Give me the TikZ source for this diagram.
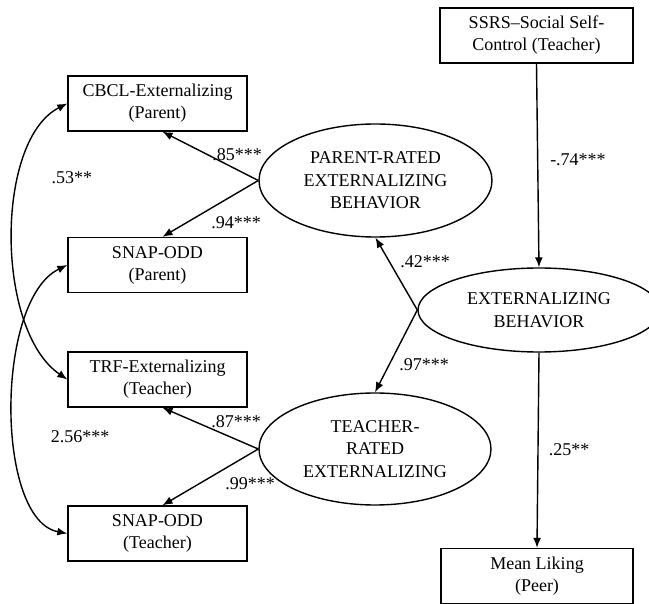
\documentclass[tikz,border=0pt]{standalone}
\usepackage{fontspec}
\setmainfont{Liberation Serif}
\usetikzlibrary{shapes.geometric,arrows.meta}
\begin{document}
\begin{tikzpicture}[x=1pt,y=-1pt,
  every node/.style={font=\fontsize{18}{22}\selectfont},
  obs/.style={draw,line width=1.4pt,rectangle,minimum width=179pt,minimum height=55pt,inner sep=0pt,align=center},
  lat/.style={draw,line width=1.4pt,ellipse,inner sep=0pt,align=center},
  arr/.style={line width=1.4pt,-{Latex[length=10pt,width=8pt]}},
  darr/.style={line width=1.4pt,{Latex[length=10pt,width=8pt]}-{Latex[length=10pt,width=8pt]}},
  lbl/.style={inner sep=0pt}]
\useasboundingbox (0,0) rectangle (649,604);
\clip (0,0) rectangle (649,604);
\fill[white] (0,0) rectangle (649,604);
% observed
\node[obs] (cbcl) at (157.5,103.5) {CBCL-Externalizing\\(Parent)};
\node[obs] (snapp) at (157.5,265) {SNAP-ODD\\(Parent)};
\node[obs] (trf) at (157.5,379.5) {TRF-Externalizing\\(Teacher)};
\node[obs] (snapt) at (157.5,533.5) {SNAP-ODD\\(Teacher)};
\node[obs,minimum width=193pt] (ssrs) at (536.5,35.5) {SSRS--Social Self-\\Control (Teacher)};
\node[obs,minimum width=192pt] (liking) at (537,576) {Mean Liking\\(Peer)};
% latent
\node[lat,minimum width=233pt,minimum height=113pt,font=\fontsize{18}{22.5}\selectfont] (parent) at (375.5,180.5) {PARENT-RATED\\EXTERNALIZING\\BEHAVIOR};
\node[lat,minimum width=232pt,minimum height=112pt,font=\fontsize{18}{22.5}\selectfont] (teacher) at (375,449) {TEACHER-\\RATED\\EXTERNALIZING};
\node[lat,minimum width=242pt,minimum height=84pt,font=\fontsize{18}{22.5}\selectfont] (ext) at (539,310) {EXTERNALIZING\\BEHAVIOR};
% paths
\draw[arr] (parent.west) -- ([xshift=5pt]cbcl.south);
\draw[arr] (parent.west) -- ([xshift=5pt]snapp.north);
\draw[arr] (teacher.west) -- ([xshift=5pt]trf.south);
\draw[arr] (teacher.west) -- ([xshift=5pt]snapt.north);
\draw[arr] (ext.west) -- (parent.south);
\draw[arr] (ext.west) -- (teacher.north);
\draw[arr] (ssrs.south) -- (ext.north);
\draw[arr] (ext.south) -- (liking.north);
\draw[darr] (cbcl.west) .. controls (-5,140) and (-5,330) .. (trf.west);
\draw[darr] (snapp.west) .. controls (-5,300) and (-5,520) .. (snapt.west);
% labels
\node[lbl] (l85) at (237,155) {.85***};
\node[lbl] (l94) at (236,223) {.94***};
\node[lbl] (l53) at (72,178) {.53**};
\node[lbl] (l87) at (236,422) {.87***};
\node[lbl] (l99) at (250,484) {.99***};
\node[lbl] (l256) at (80,437) {2.56***};
\node[lbl] (l42) at (425,262) {.42***};
\node[lbl] (l97) at (424,365) {.97***};
\node[lbl] (l74) at (578,160) {-.74***};
\node[lbl] (l25) at (569,450) {.25**};
\end{tikzpicture}
\end{document}
